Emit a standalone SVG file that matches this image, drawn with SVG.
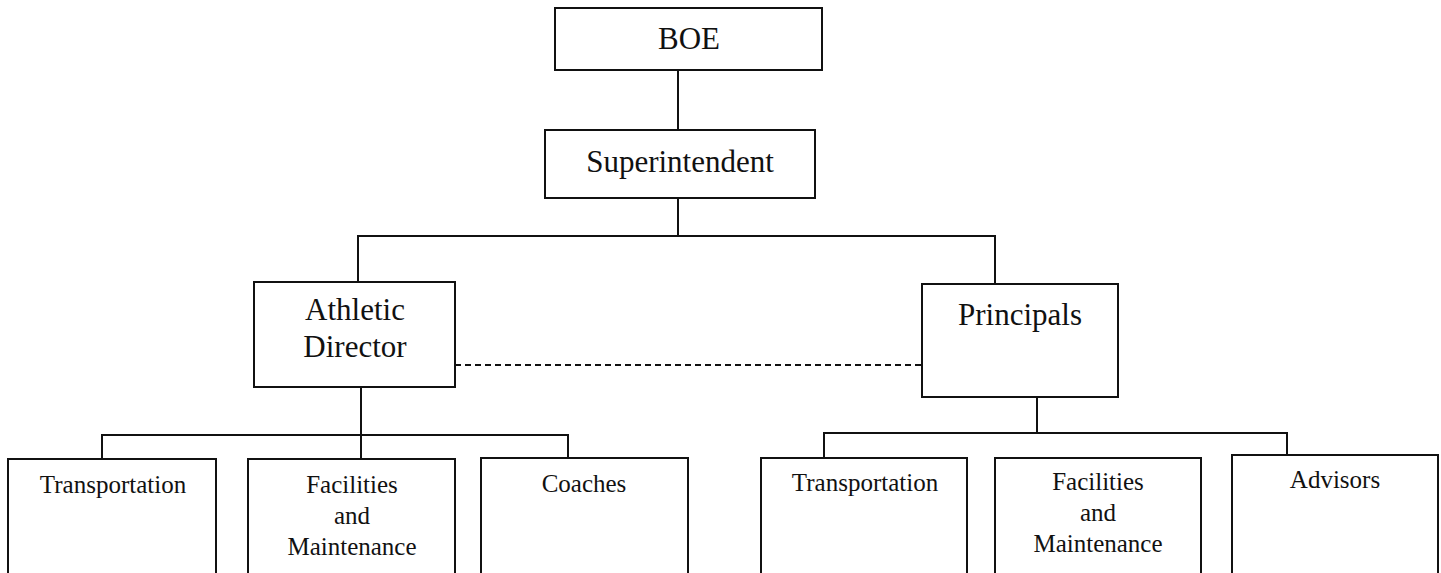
<svg xmlns="http://www.w3.org/2000/svg" width="1441" height="573" viewBox="0 0 1441 573">
<style>
.box{fill:#fff;stroke:#111;stroke-width:2}
.ln{fill:none;stroke:#111;stroke-width:2}
.dash{fill:none;stroke:#111;stroke-width:2;stroke-dasharray:6,4}
.t{font-family:"Liberation Serif","Times New Roman",serif;fill:#111;text-anchor:middle}
.big{font-size:31px}
.sm{font-size:25px}
</style>
<rect width="1441" height="573" fill="#fff"/>
<g id="connectors">
<line class="ln" x1="678" y1="70" x2="678" y2="130"/>
<line class="ln" x1="678" y1="198" x2="678" y2="236"/>
<polyline class="ln" points="358,282 358,236 995,236 995,284"/>
<line class="ln" x1="361" y1="387" x2="361" y2="459"/>
<polyline class="ln" points="102,459 102,435 568,435 568,458"/>
<line class="dash" x1="455" y1="365" x2="922" y2="365"/>
<line class="ln" x1="1037" y1="397" x2="1037" y2="433"/>
<polyline class="ln" points="824,458 824,433 1287,433 1287,455"/>
</g>
<g id="boe"><rect class="box" x="555" y="8" width="267" height="62"/><text class="t big" x="689" y="49">BOE</text></g>
<g id="superintendent"><rect class="box" x="545" y="130" width="270" height="68"/><text class="t big" x="680" y="172">Superintendent</text></g>
<g id="athletic-director"><rect class="box" x="254" y="282" width="201" height="105"/><text class="t big" x="355" y="320">Athletic</text><text class="t big" x="355" y="357">Director</text></g>
<g id="principals"><rect class="box" x="922" y="284" width="196" height="113"/><text class="t big" x="1020" y="325">Principals</text></g>
<g id="ad-transportation"><rect class="box" x="8" y="459" width="208" height="130"/><text class="t sm" x="113" y="493">Transportation</text></g>
<g id="ad-facilities"><rect class="box" x="248" y="459" width="207" height="130"/><text class="t sm" x="352" y="493">Facilities</text><text class="t sm" x="352" y="524">and</text><text class="t sm" x="352" y="555">Maintenance</text></g>
<g id="coaches"><rect class="box" x="481" y="458" width="207" height="130"/><text class="t sm" x="584" y="492">Coaches</text></g>
<g id="pr-transportation"><rect class="box" x="761" y="458" width="206" height="130"/><text class="t sm" x="865" y="491">Transportation</text></g>
<g id="pr-facilities"><rect class="box" x="995" y="458" width="206" height="130"/><text class="t sm" x="1098" y="490">Facilities</text><text class="t sm" x="1098" y="521">and</text><text class="t sm" x="1098" y="552">Maintenance</text></g>
<g id="advisors"><rect class="box" x="1232" y="455" width="206" height="130"/><text class="t sm" x="1335" y="488">Advisors</text></g>
</svg>
